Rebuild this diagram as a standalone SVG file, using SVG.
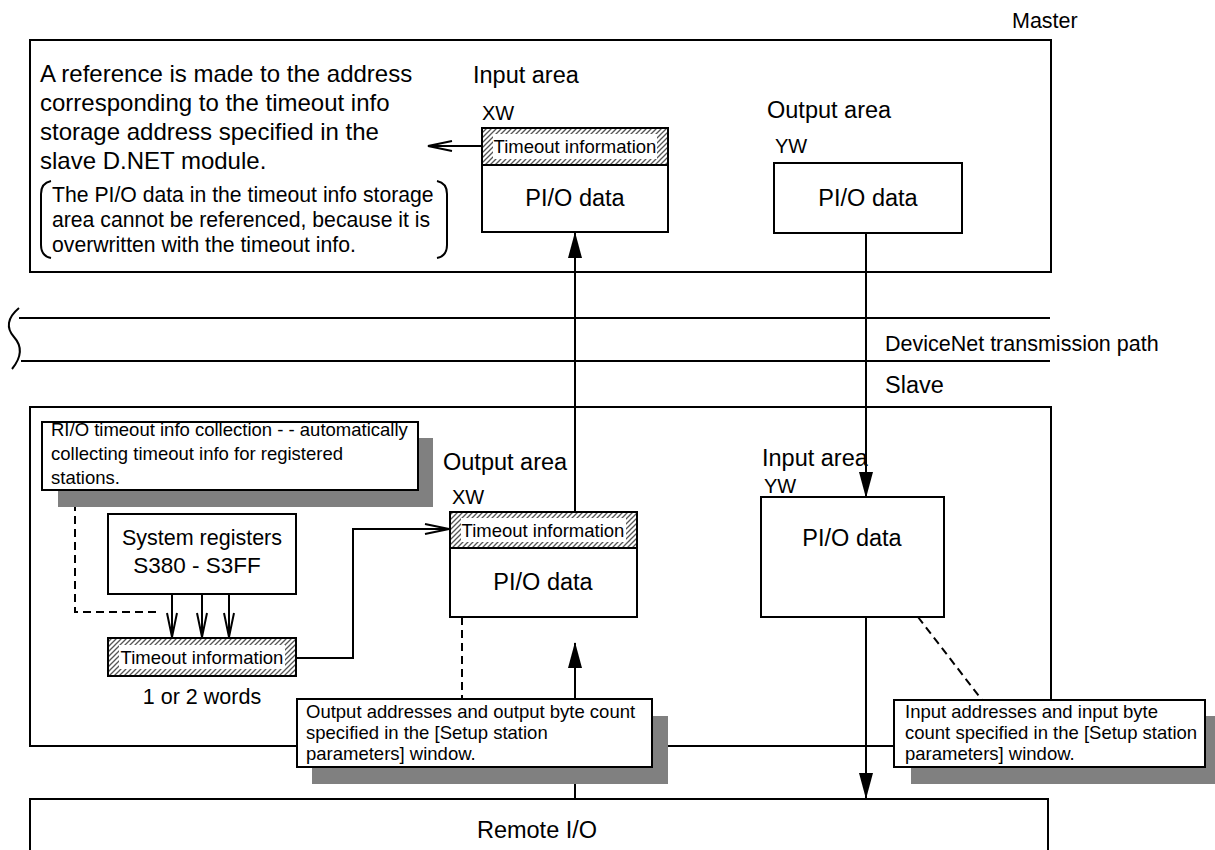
<svg xmlns="http://www.w3.org/2000/svg" width="1215" height="850" viewBox="0 0 1215 850">
<style>
text{font-family:"Liberation Sans",Arial,sans-serif;fill:#000}
.big{font-size:24px}
.lbl{font-size:23.5px}
.sm{font-size:21.5px}
.xw{font-size:20px}
.note{font-size:21.2px}
.co{font-size:18.5px}
.ti{font-size:18.5px}
.box{fill:#fff;stroke:#000;stroke-width:2}
.ln{fill:none;stroke:#000;stroke-width:2}
.dash{fill:none;stroke:#000;stroke-width:2;stroke-dasharray:8 5}
.shadow{fill:#808080}
.hatch{fill:url(#hatch);stroke:#000;stroke-width:2}
.c{text-anchor:middle}
</style>
<defs>
<pattern id="hatch" patternUnits="userSpaceOnUse" width="5" height="5">
<rect width="5" height="5" fill="#fff"/>
<path d="M-1,1 L1,-1 M0,5 L5,0 M4,6 L6,4" stroke="#555" stroke-width="1.3"/>
</pattern>
<marker id="open" markerUnits="userSpaceOnUse" markerWidth="26" markerHeight="14" viewBox="0 0 26 14" refX="25" refY="7" orient="auto">
<path d="M1,2 L25,7 L1,12" fill="none" stroke="#000" stroke-width="2"/>
</marker>
<marker id="fill" markerUnits="userSpaceOnUse" markerWidth="26" markerHeight="16" viewBox="0 0 26 16" refX="25" refY="8" orient="auto">
<path d="M0,1 L26,8 L0,15 Z" fill="#000"/>
</marker>
</defs>

<g id="master">
<rect class="box" x="30" y="40" width="1021" height="232"/>
<text class="sm" x="1012" y="28">Master</text>
<text class="big" x="40" y="82">A reference is made to the address</text>
<text class="big" x="40" y="111">corresponding to the timeout info</text>
<text class="big" x="40" y="140">storage address specified in the</text>
<text class="big" x="40" y="169">slave D.NET module.</text>
<path class="ln" d="M51,181 Q41,183 41,194 V245 Q41,256 51,258"/>
<path class="ln" d="M437,181 Q447,183 447,194 V245 Q447,256 437,258"/>
<text class="note" x="52" y="202">The PI/O data in the timeout info storage</text>
<text class="note" x="52" y="227">area cannot be referenced, because it is</text>
<text class="note" x="52" y="252">overwritten with the timeout info.</text>
</g>

<g id="master-input">
<text class="lbl" x="473" y="83">Input area</text>
<text class="xw" x="482" y="120">XW</text>
<rect class="box" x="482" y="128" width="186" height="104"/>
<rect class="hatch" x="482" y="128" width="186" height="37"/>
<rect x="493" y="134" width="164" height="25" fill="#fff"/>
<text class="ti c" x="575" y="153">Timeout information</text>
<text class="lbl c" x="575" y="206">PI/O data</text>
</g>

<g id="master-output">
<text class="lbl" x="767" y="118">Output area</text>
<text class="xw" x="775" y="153">YW</text>
<rect class="box" x="774" y="163" width="188" height="70"/>
<text class="lbl c" x="868" y="206">PI/O data</text>
</g>

<g id="network">
<path class="ln" d="M19,318 H1050 M21,361 H1050"/>
<path class="ln" d="M19,308 C7,318 6,328 14,337 C23,347 21,358 12,369"/>
<text class="sm" x="885" y="351">DeviceNet transmission path</text>
<text class="lbl" x="885" y="393">Slave</text>
</g>

<g id="slave">
<rect class="box" x="30" y="407" width="1021" height="339"/>
</g>

<g id="connectors">
<path class="dash" d="M75,490 V612 H160"/>
<path class="ln" d="M172,594 V637" marker-end="url(#open)"/>
<path class="ln" d="M202,594 V637" marker-end="url(#open)"/>
<path class="ln" d="M229,594 V637" marker-end="url(#open)"/>
<path class="ln" d="M296,658 H353 V529 H449" marker-end="url(#open)"/>
<path class="ln" d="M482,146 H428" marker-end="url(#open)"/>
<path class="ln" d="M575,512 V233" marker-end="url(#fill)"/>
<path class="ln" d="M866,233 V497" marker-end="url(#fill)"/>
<path class="ln" d="M866,617 V798" marker-end="url(#fill)"/>
<path class="ln" d="M575,799 V643" marker-end="url(#fill)"/>
<path class="dash" d="M462,617 V699"/>
<path class="dash" d="M918,617 L982,700"/>
</g>

<g id="rio-callout">
<rect class="shadow" x="58" y="438" width="375" height="69"/>
<rect class="box" x="42" y="422" width="376" height="68"/>
<text class="co" x="51" y="436">RI/O timeout info collection - - automatically</text>
<text class="co" x="51" y="460">collecting timeout info for registered</text>
<text class="co" x="51" y="484">stations.</text>
</g>

<g id="sysreg">
<rect class="box" x="108" y="514" width="188" height="80"/>
<text class="sm c" x="202" y="545">System registers</text>
<text class="sm c" x="197" y="573" style="font-size:22.5px">S380 - S3FF</text>
</g>

<g id="slave-timeout">
<rect class="hatch" x="108" y="638" width="188" height="38"/>
<rect x="119" y="645" width="166" height="24" fill="#fff"/>
<text class="ti c" x="202" y="664">Timeout information</text>
<text class="sm c" x="202" y="704">1 or 2 words</text>
</g>

<g id="slave-output">
<text class="lbl" x="443" y="470">Output area</text>
<text class="xw" x="452" y="504">XW</text>
<rect class="box" x="450" y="512" width="187" height="105"/>
<rect class="hatch" x="450" y="512" width="187" height="36"/>
<rect x="461" y="518" width="165" height="24" fill="#fff"/>
<text class="ti c" x="543" y="537">Timeout information</text>
<text class="lbl c" x="543" y="590">PI/O data</text>
</g>

<g id="slave-input">
<text class="lbl" x="762" y="466">Input area</text>
<text class="xw" x="764" y="493">YW</text>
<rect class="box" x="761" y="497" width="183" height="120"/>
<text class="lbl c" x="852" y="546">PI/O data</text>
</g>

<g id="out-callout">
<rect class="shadow" x="312" y="716" width="356" height="68"/>
<rect class="box" x="297" y="699" width="355" height="68"/>
<text class="co" x="306" y="718">Output addresses and output byte count</text>
<text class="co" x="306" y="739">specified in the [Setup station</text>
<text class="co" x="306" y="760">parameters] window.</text>
</g>

<g id="in-callout">
<rect class="shadow" x="911" y="716" width="310" height="68"/>
<rect class="box" x="894" y="700" width="311" height="67"/>
<text class="co" x="905" y="718">Input addresses and input byte</text>
<text class="co" x="905" y="739">count specified in the [Setup station</text>
<text class="co" x="905" y="760">parameters] window.</text>
</g>

<g id="remote">
<rect class="box" x="30" y="799" width="1018" height="80"/>
<text class="lbl c" x="537" y="838">Remote I/O</text>
</g>
</svg>
